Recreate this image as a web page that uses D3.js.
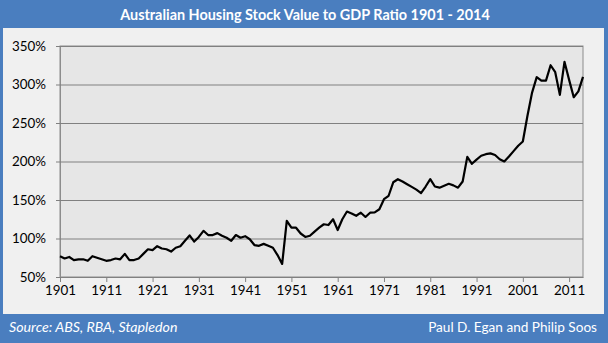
<!DOCTYPE html>
<html>
<head>
<meta charset="utf-8">
<script src="https://cdn.jsdelivr.net/npm/d3@7"></script>
<style>
    html, body { margin: 0; padding: 0; background: #fff; }
    svg { display: block; }
</style>
</head>
<body>
<div id="chart"></div>
<script>
// housing stock value as % of GDP, one value per year
var firstYear = 1901;
var ratio = [
    77, 74, 76, 72, 73, 73, 71, 77, 75, 73,          // 1901-1910
    71, 72, 74, 73, 80, 72, 72, 74, 80, 86,          // 1911-1920
    85, 90, 87, 86, 83, 88, 90, 97, 104, 96,         // 1921-1930
    102, 110, 104.5, 104.5, 107, 103.5, 101, 97, 104.5, 101,  // 1931-1940
    103, 99, 91.5, 90.5, 93, 90.5, 88, 78.5, 67, 123,         // 1941-1950
    114, 114, 106.5, 102, 103.5, 109, 114, 118.5, 117.5, 125, // 1951-1960
    111, 125, 135, 132.5, 129.5, 133.5, 128, 133.5, 134, 138, // 1961-1970
    151, 155.5, 173, 177, 174, 170.5, 167, 163.5, 159, 167.5, // 1971-1980
    177, 167.5, 166, 168.5, 171, 169, 166, 174, 206, 197,     // 1981-1990
    202.5, 207.5, 209.5, 210.5, 208.5, 203, 200, 206.5, 213.5, 220.5, // 1991-2000
    226, 259.5, 289.5, 309.5, 305, 305, 325, 316, 286.5, 329.5,       // 2001-2010
    306, 283.5, 291, 310                                              // 2011-2014
];
var years = ratio.map(function (d, i) { return firstYear + i; });
var yTicks = [50, 100, 150, 200, 250, 300, 350];
var xTicks = [1901, 1911, 1921, 1931, 1941, 1951, 1961, 1971, 1981, 1991, 2001, 2011];

var titleText = 'Australian Housing Stock Value to GDP Ratio 1901 - 2014';
var sourceText = 'Source: ABS, RBA, Stapledon';
var authorText = 'Paul D. Egan and Philip Soos';

var width = 608, height = 343;
var blue = '#4a7ebf';
var margin = {top: 46, bottom: 66, left: 60, right: 25};
var font = 'Lato, "Open Sans", sans-serif';

var svg = d3.select('#chart')
    .append('svg')
    .attr('width', width)
    .attr('height', height);

// frame: blue header / footer bars with light panel between
svg.append('rect')
    .attr('width', width).attr('height', height)
    .attr('fill', blue);
svg.append('rect')
    .attr('x', 3).attr('y', 28)
    .attr('width', width - 3 - 4).attr('height', 314 - 28)
    .attr('fill', '#f0f0f0');

svg.append('text')
    .attr('x', width / 2 + 1).attr('y', 20)
    .attr('text-anchor', 'middle')
    .attr('fill', '#fff')
    .style('font', 'bold 14.4px ' + font)
    .text(titleText);

svg.append('text')
    .attr('x', 9).attr('y', 332)
    .attr('fill', '#fff')
    .style('font', 'italic 14.2px ' + font)
    .text(sourceText);

svg.append('text')
    .attr('x', 597).attr('y', 332)
    .attr('text-anchor', 'end')
    .attr('fill', '#fff')
    .style('font', '13.6px ' + font)
    .text(authorText);

var x = d3.scaleLinear()
    .domain([firstYear, years[years.length - 1]])
    .range([margin.left, width - margin.right]);

var y = d3.scaleLinear()
    .domain([50, 350])
    .range([height - margin.bottom, margin.top]);

// plot area
svg.append('rect')
    .attr('x', x.range()[0]).attr('y', y(350))
    .attr('width', x.range()[1] - x.range()[0])
    .attr('height', y(50) - y(350))
    .attr('fill', '#e6e6e6')
    .attr('stroke', '#8c8c8c')
    .attr('stroke-width', 1);

var plotWidth = x.range()[1] - x.range()[0];

var yAxis = d3.axisLeft(y)
    .tickValues(yTicks)
    .tickSizeInner(4)
    .tickSizeOuter(0)
    .tickPadding(10)
    .tickFormat(function (d) { return d + '%'; });

var yAxisContainer = svg.append('g')
    .attr('transform', 'translate(' + x.range()[0] + ' 0)')
    .call(yAxis);
yAxisContainer.select('.domain').attr('stroke', '#8c8c8c');
yAxisContainer.selectAll('.tick line').attr('stroke', '#808080');
// gridlines across the plot
yAxisContainer.selectAll('.tick')
    .append('line')
    .attr('x1', 0).attr('x2', plotWidth)
    .attr('stroke', '#808080');
yAxisContainer.selectAll('.tick text')
    .attr('fill', '#000')
    .style('font', '13.4px ' + font);

var xAxis = d3.axisBottom(x)
    .tickValues(xTicks)
    .tickSizeInner(5)
    .tickSizeOuter(0)
    .tickPadding(3)
    .tickFormat(d3.format('d'));

var xAxisContainer = svg.append('g')
    .attr('transform', 'translate(0 ' + y(50) + ')')
    .call(xAxis);
xAxisContainer.select('.domain').attr('stroke', '#808080');
xAxisContainer.selectAll('.tick line').attr('stroke', '#808080');
xAxisContainer.selectAll('.tick text')
    .attr('fill', '#000')
    .style('font', '13.4px ' + font);

var line = d3.line()
    .x(function (d, i) { return x(years[i]); })
    .y(function (d) { return y(d); });

svg.append('path')
    .datum(ratio)
    .attr('fill', 'none')
    .attr('stroke', '#000')
    .attr('stroke-width', 2.2)
    .attr('stroke-linejoin', 'round')
    .attr('d', line);
</script>
</body>
</html>
